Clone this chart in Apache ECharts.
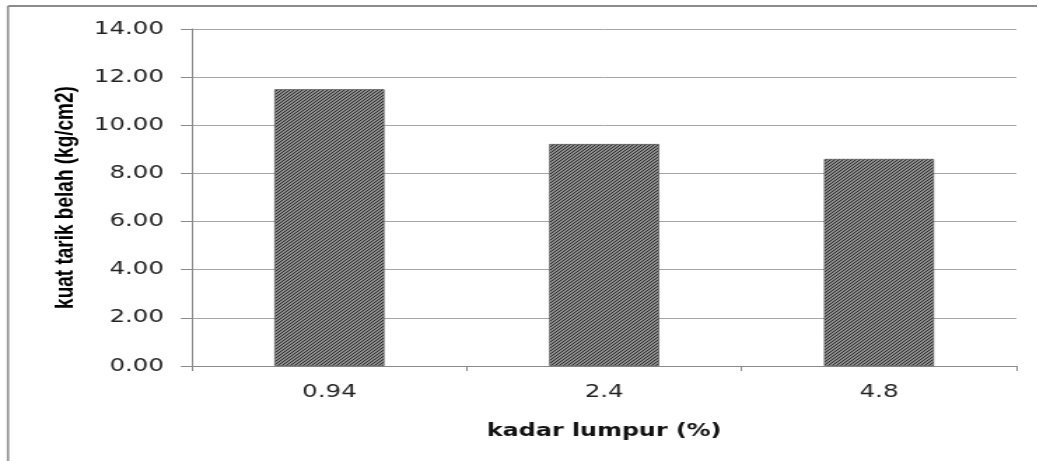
<!DOCTYPE html>
<html>
<head>
<meta charset="utf-8">
<script src="https://cdn.jsdelivr.net/npm/echarts@6/dist/echarts.min.js"></script>
<style>
  html, body { margin: 0; padding: 0; background: #fff; overflow: hidden; }
  /* the source picture is stretched sideways, so draw narrow and scale x */
  #main { width: 741.43px; height: 461px; transform: scaleX(1.4); transform-origin: 0 0; }
</style>
</head>
<body>
<div id="main"></div>
<script>
// kadar lumpur (%) vs kuat tarik belah
const categories = ['0.94', '2.4', '4.8']
const tensileValues = [11.5, 9.22, 8.6]
const yTicks = [0, 2, 4, 6, 8, 10, 12, 14]

const SX = 1.4

// hatch fill for the bars
function makeHatch() {
  const c = document.createElement('canvas')
  c.width = 3
  c.height = 3
  const ctx = c.getContext('2d')
  ctx.fillStyle = '#8e8e8e'
  ctx.fillRect(0, 0, 3, 3)
  ctx.fillStyle = '#2a2a2a'
  ctx.fillRect(2, 0, 1, 1)
  ctx.fillRect(1, 1, 1, 1)
  ctx.fillRect(0, 2, 1, 1)
  return c
}

const chart = echarts.init(document.getElementById('main'), null, { renderer: 'canvas' })

const option = {
  animation: false,
  grid: {
    left: 192 / SX,
    right: 21 / SX,
    top: 29,
    bottom: 95
  },
  graphic: [
    {
      type: 'line',
      shape: { x1: 8 / SX, y1: 6, x2: 8 / SX, y2: 461 },
      style: { stroke: '#8c8c8c', lineWidth: 1.6 }
    },
    {
      type: 'line',
      shape: { x1: 8 / SX, y1: 6, x2: 1038 / SX, y2: 6 },
      style: { stroke: '#8c8c8c', lineWidth: 2 }
    }
  ],
  xAxis: {
    type: 'category',
    data: categories,
    name: 'kadar lumpur (%)',
    nameLocation: 'middle',
    nameGap: 66,
    nameTextStyle: {
      fontFamily: 'DejaVu Sans',
      fontWeight: 'bold',
      fontSize: 17,
      color: '#111',
      verticalAlign: 'middle'
    },
    axisLine: { lineStyle: { color: '#8a8a8a', width: 1 } },
    axisTick: { show: true, length: 5, lineStyle: { color: '#8a8a8a' } },
    axisLabel: {
      margin: 17,
      fontFamily: 'DejaVu Sans',
      fontSize: 17.5,
      color: '#222'
    }
  },
  yAxis: {
    type: 'value',
    min: yTicks[0],
    max: yTicks[yTicks.length - 1],
    interval: 2,
    name: 'kuat tarik belah (kg/cm2)',
    nameLocation: 'middle',
    nameGap: 72,
    nameTextStyle: {
      fontFamily: 'Liberation Sans',
      fontWeight: 'bold',
      fontSize: 19,
      color: '#000'
    },
    axisLine: { show: true, lineStyle: { color: '#8a8a8a', width: 1 } },
    axisTick: { show: true, length: 8, lineStyle: { color: '#8a8a8a' } },
    axisLabel: {
      margin: 20,
      fontFamily: 'DejaVu Sans',
      fontSize: 17.5,
      color: '#222',
      formatter: v => v.toFixed(2)
    },
    splitLine: { lineStyle: { color: '#a6a6a6', width: 1 } }
  },
  series: [
    {
      type: 'bar',
      data: tensileValues,
      barWidth: '40%',
      itemStyle: {
        color: { image: makeHatch(), repeat: 'repeat' },
        borderColor: '#4a4a4a',
        borderWidth: 0.6
      }
    }
  ]
}

chart.setOption(option)
</script>
</body>
</html>
